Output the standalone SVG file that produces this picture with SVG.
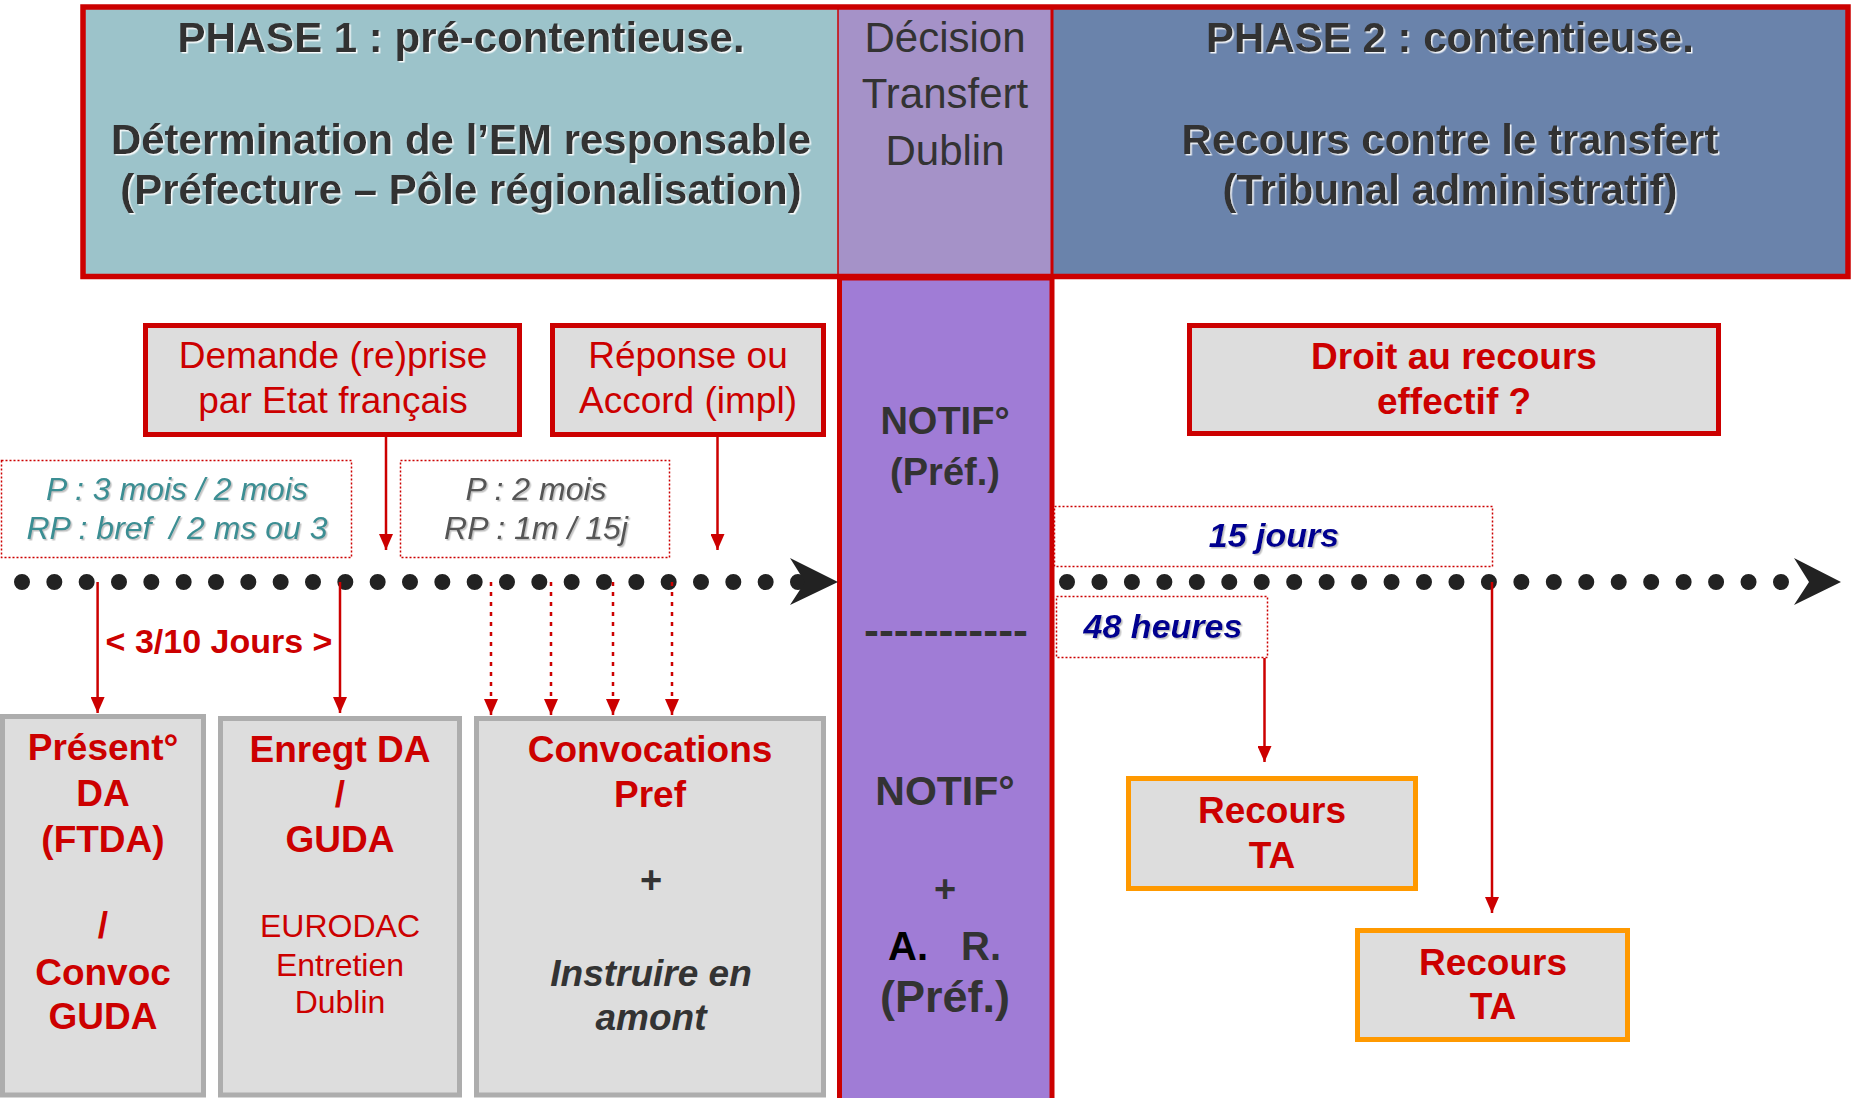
<svg xmlns="http://www.w3.org/2000/svg" width="1851" height="1098" viewBox="0 0 1851 1098">
<defs>
<style>
text { font-family: "Liberation Sans", Arial, sans-serif; text-anchor: middle; }
.hd { font-size: 42px; font-weight: bold; fill: #333; }
.hr { font-size: 42px; fill: #333; }
.rb { font-size: 37px; font-weight: bold; fill: #CC0000; }
.rr { font-size: 37px; fill: #CC0000; }
.rs { font-size: 32px; fill: #CC0000; }
.gb { font-size: 38px; font-weight: bold; fill: #333; }
.gi { font-size: 37px; font-weight: bold; font-style: italic; fill: #333; }
.box { fill: #DDDDDD; stroke: #CC0000; stroke-width: 5; }
.gbox { fill: #DDDDDD; stroke: #ADADAD; stroke-width: 5; }
.obox { fill: #DDDDDD; stroke: #FF9900; stroke-width: 5; }
.dbox { fill: #FFFFFF; stroke: #CC0000; stroke-width: 1.5; stroke-dasharray: 2 2; }
.sol { stroke: #CC0000; stroke-width: 2.5; fill: none; }
.dot { stroke: #CC0000; stroke-width: 2.5; stroke-dasharray: 4 6; fill: none; }
.tl { fill: none; stroke: #222; stroke-width: 16; stroke-linecap: round; }
.it { font-size: 32px; font-style: italic; }
.nv { font-size: 34px; font-style: italic; font-weight: bold; fill: #000090; }
</style>
<marker id="ah" viewBox="0 0 16 14" refX="16" refY="7" markerWidth="16" markerHeight="14" markerUnits="userSpaceOnUse" orient="auto">
<path d="M0,0 L16,7 L0,14 z" fill="#CC0000"/>
</marker>
<filter id="wsh" x="-5%" y="-20%" width="110%" height="140%">
<feDropShadow dx="1.5" dy="1.5" stdDeviation="0.4" flood-color="#FFFFFF" flood-opacity="0.9"/>
</filter>
<filter id="gsh" x="-5%" y="-20%" width="110%" height="140%">
<feDropShadow dx="1.5" dy="1.5" stdDeviation="0.6" flood-color="#999999" flood-opacity="0.6"/>
</filter>
</defs>
<rect x="0" y="0" width="1851" height="1098" fill="#FFFFFF"/>

<g id="header">
<rect x="83" y="7" width="755" height="269.5" fill="#9CC3CA"/>
<rect x="838" y="7" width="214" height="269.5" fill="#A592C8"/>
<rect x="1052" y="7" width="796" height="269.5" fill="#6A83AB"/>
<line x1="838" y1="7" x2="838" y2="276" stroke="#CC0000" stroke-width="1.5"/>
<line x1="1052" y1="7" x2="1052" y2="276" stroke="#CC0000" stroke-width="3"/>
<rect x="83" y="7" width="1765" height="269.5" fill="none" stroke="#CC0000" stroke-width="5.5"/>
</g>

<g id="phase1" filter="url(#wsh)">
<text class="hd" x="461" y="52">PHASE 1 : pré-contentieuse.</text>
<text class="hd" x="461" y="154">Détermination de l’EM responsable</text>
<text class="hd" x="461" y="204">(Préfecture – Pôle régionalisation)</text>
</g>
<g id="decision">
<text class="hr" x="945" y="52">Décision</text>
<text class="hr" x="945" y="108">Transfert</text>
<text class="hr" x="945" y="165">Dublin</text>
</g>
<g id="phase2" filter="url(#wsh)">
<text class="hd" x="1450" y="52">PHASE 2 : contentieuse.</text>
<text class="hd" x="1450" y="154">Recours contre le transfert</text>
<text class="hd" x="1450" y="204">(Tribunal administratif)</text>
</g>

<g id="notif-column">
<rect x="839.5" y="278" width="212.5" height="830" fill="#A07CD6" stroke="#CC0000" stroke-width="5"/>
<text class="gb" x="945" y="434">NOTIF°</text>
<text class="gb" x="945" y="485">(Préf.)</text>
<text class="gb" x="946" y="645" style="font-size:42px" textLength="164" lengthAdjust="spacingAndGlyphs">-----------</text>
<text class="gb" x="945" y="805" style="font-size:41px">NOTIF°</text>
<text class="gb" x="945" y="902">+</text>
<text class="gb" x="908" y="960" style="fill:#000;font-size:40px">A.</text>
<text class="gb" x="981" y="960" style="font-size:40px">R.</text>
<text class="gb" x="945" y="1012" style="font-size:45px">(Préf.)</text>
</g>

<g id="demande">
<rect class="box" x="145.5" y="325.5" width="374" height="109"/>
<text class="rr" x="333" y="368">Demande (re)prise</text>
<text class="rr" x="333" y="413">par Etat français</text>
</g>
<g id="reponse">
<rect class="box" x="552.5" y="325.5" width="271" height="109"/>
<text class="rr" x="688" y="368">Réponse ou</text>
<text class="rr" x="688" y="413">Accord (impl)</text>
</g>
<g id="delai1">
<rect class="dbox" x="1.5" y="460.5" width="350" height="97"/>
<g filter="url(#gsh)">
<text class="it" x="177" y="500" fill="#3B8E93">P : 3 mois / 2 mois</text>
<text class="it" x="177" y="539" fill="#3B8E93" xml:space="preserve">RP : bref  / 2 ms ou 3</text>
</g>
</g>
<g id="delai2">
<rect class="dbox" x="400.5" y="460.5" width="269" height="97"/>
<g filter="url(#gsh)">
<text class="it" x="536" y="500" fill="#555555">P : 2 mois</text>
<text class="it" x="536" y="539" fill="#555555">RP : 1m / 15j</text>
</g>
</g>

<g id="delai-jours">
<text x="219" y="653" style="font-size:34px;font-weight:bold;fill:#CC0000">&lt; 3/10 Jours &gt;</text>
</g>

<g id="present">
<rect class="gbox" x="2.5" y="716.5" width="201" height="378.5"/>
<text class="rb" x="103" y="760">Présent°</text>
<text class="rb" x="103" y="806">DA</text>
<text class="rb" x="103" y="852">(FTDA)</text>
<text class="rb" x="103" y="938">/</text>
<text class="rb" x="103" y="985">Convoc</text>
<text class="rb" x="103" y="1029">GUDA</text>
</g>
<g id="enregt">
<rect class="gbox" x="220.5" y="718.5" width="239" height="376.5"/>
<text class="rb" x="340" y="762">Enregt DA</text>
<text class="rb" x="340" y="807">/</text>
<text class="rb" x="340" y="852">GUDA</text>
<text class="rs" x="340" y="937">EURODAC</text>
<text class="rs" x="340" y="976">Entretien</text>
<text class="rs" x="340" y="1013">Dublin</text>
</g>
<g id="convocations">
<rect class="gbox" x="476.5" y="718.5" width="347" height="376.5"/>
<text class="rb" x="650" y="762">Convocations</text>
<text class="rb" x="650" y="807">Pref</text>
<text class="gb" x="651" y="893">+</text>
<text class="gi" x="651" y="986">Instruire en</text>
<text class="gi" x="651" y="1030">amont</text>
</g>

<g id="droit">
<rect class="box" x="1189.5" y="325.5" width="529" height="108"/>
<text class="rb" x="1454" y="369">Droit au recours</text>
<text class="rb" x="1454" y="414">effectif ?</text>
</g>
<g id="quinze-jours">
<rect class="dbox" x="1054.5" y="506.5" width="438" height="60"/>
<text class="nv" x="1274" y="547" filter="url(#gsh)">15 jours</text>
</g>
<g id="quarante-huit">
<rect class="dbox" x="1056.5" y="596.5" width="211" height="61"/>
<text class="nv" x="1163" y="638" filter="url(#gsh)">48 heures</text>
</g>
<g id="recours1">
<rect class="obox" x="1128.5" y="778.5" width="287" height="110"/>
<text class="rb" x="1272" y="823">Recours</text>
<text class="rb" x="1272" y="868">TA</text>
</g>
<g id="recours2">
<rect class="obox" x="1357.5" y="930.5" width="270" height="109"/>
<text class="rb" x="1493" y="975">Recours</text>
<text class="rb" x="1493" y="1019">TA</text>
</g>

<g id="timelines">
<line class="tl" x1="22" y1="582" x2="798" y2="582" stroke-dasharray="0 32.333"/>
<polygon points="790,558 838,582 790,605 805,582" fill="#222"/>
<line class="tl" x1="1067" y1="582" x2="1781" y2="582" stroke-dasharray="0 32.4545"/>
<polygon points="1794,558 1841,582 1794,605 1809,582" fill="#222"/>
</g>

<g id="connectors">
<line class="sol" x1="386" y1="437" x2="386" y2="550" marker-end="url(#ah)"/>
<line class="sol" x1="717.5" y1="437" x2="717.5" y2="550" marker-end="url(#ah)"/>
<line class="sol" x1="97.6" y1="582" x2="97.6" y2="713" marker-end="url(#ah)"/>
<line class="sol" x1="340" y1="582" x2="340" y2="713" marker-end="url(#ah)"/>
<line class="dot" x1="491" y1="582" x2="491" y2="715" marker-end="url(#ah)"/>
<line class="dot" x1="551" y1="582" x2="551" y2="715" marker-end="url(#ah)"/>
<line class="dot" x1="613" y1="582" x2="613" y2="715" marker-end="url(#ah)"/>
<line class="dot" x1="672" y1="582" x2="672" y2="715" marker-end="url(#ah)"/>
<line class="sol" x1="1264.5" y1="658" x2="1264.5" y2="762" marker-end="url(#ah)"/>
<line class="sol" x1="1492" y1="582" x2="1492" y2="913" marker-end="url(#ah)"/>
</g>
</svg>
